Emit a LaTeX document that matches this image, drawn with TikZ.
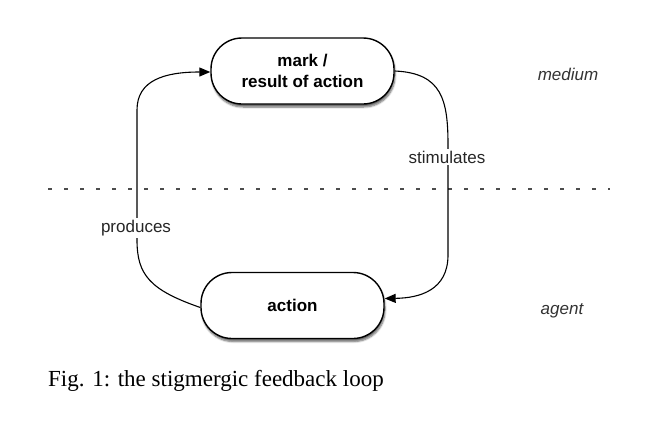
\documentclass[tikz,border=0pt]{standalone}
\usepackage{fontspec}
\setmainfont{Liberation Serif}
\setsansfont{Liberation Sans}
\usetikzlibrary{shadows.blur,arrows.meta}
\begin{document}
\begin{tikzpicture}[x=1pt,y=-1pt,
  box/.style={draw=black,line width=1.4pt,fill=white,rounded corners=31pt,
    minimum height=66pt,align=center,font=\sffamily\bfseries\fontsize{17}{21}\selectfont,
    blur shadow={shadow xshift=1pt,shadow yshift=-3pt,shadow blur steps=6,shadow opacity=60}},
  conn/.style={line width=1.1pt,-{Triangle[length=11pt,width=9pt]}},
  lbl/.style={fill=white,inner sep=2pt,font=\sffamily\fontsize{17}{20}\selectfont,text=black!85},
  side/.style={font=\sffamily\itshape\fontsize{17}{20}\selectfont,text=black!80}]
\useasboundingbox (0,0) rectangle (655,431);
\node[box,minimum width=183pt] (top) at (302.5,71) {mark /\\result of action};
\node[box,minimum width=183pt] (bot) at (292.5,305.5) {action};
\coordinate (dl) at (48,189);
\coordinate (dr) at (610,189);
\draw[black!70,line width=1.3pt,dash pattern=on 4pt off 12pt] (dl) -- (dr);
\draw[conn] (top.east) .. controls (442,73) and (448,100) .. (448,145)
  -- (448,255) .. controls (448,290) and (420,298) .. ([yshift=7pt]bot.east);
\draw[conn] ([yshift=-2pt]bot.west) .. controls (150,290) and (137,275) .. (137,240)
  -- (137,110) .. controls (137,80) and (165,72) .. ([yshift=-1pt]top.west);
\node[lbl] (stim) at (447,157) {stimulates};
\node[lbl] (prod) at (136,228) {produces};
\node[side] (med) at (568,74) {medium};
\node[side] (agt) at (562,311) {agent};
\node[anchor=west,font=\fontsize{23}{26}\selectfont,inner sep=0pt] (cap) at (48,381) {Fig. 1: the stigmergic feedback loop};
\end{tikzpicture}
\end{document}
